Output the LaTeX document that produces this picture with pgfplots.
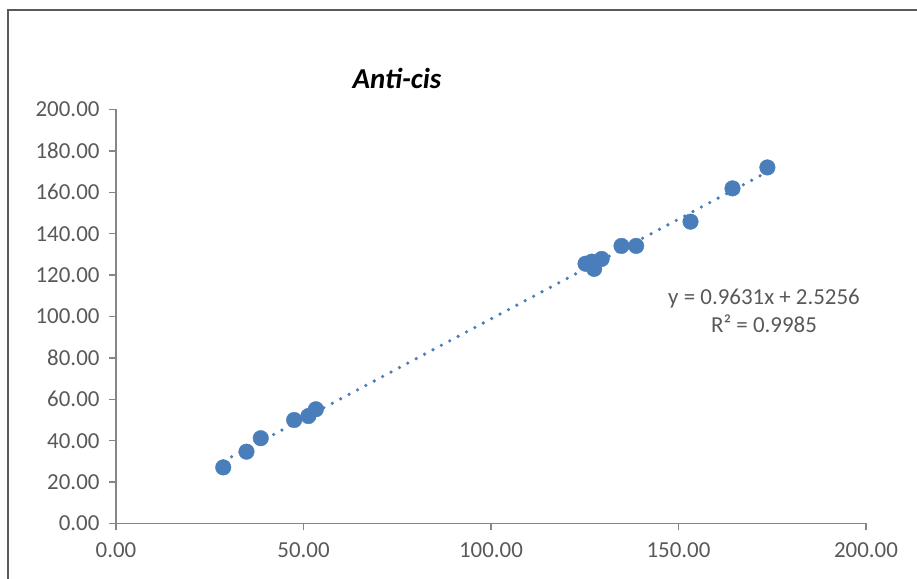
\documentclass[border=0pt]{standalone}
\usepackage{fontspec}
\setmainfont{Carlito}
\usepackage{pgfplots}
\pgfplotsset{compat=1.18}
\definecolor{pt}{HTML}{4A7EBB}
\definecolor{axg}{HTML}{868686}
\definecolor{txg}{HTML}{595959}
\begin{document}
\begin{tikzpicture}[x=1bp,y=1bp]
\path[use as bounding box] (0,0) rectangle (917,579);
\draw[color=black!65, line width=2bp] (8,0) -- (8,569) -- (917,569);
\node[font=\fontsize{29}{34}\selectfont\bfseries\itshape] at (397,501) {Anti-cis};
\begin{axis}[
  at={(116bp,55.5bp)}, anchor=south west,
  width=750bp, height=414bp, scale only axis,
  xmin=0, xmax=200, ymin=0, ymax=200,
  xtick={0,50,...,200}, ytick={0,20,...,200},
  axis x line*=bottom, axis y line*=left,
  axis line style={axg, line width=1.3bp, -},
  tick style={axg, line width=1.3bp},
  tick align=outside, major tick length=7bp,
  ticklabel style={font=\fontsize{23}{28}\selectfont, text=txg},
  xticklabel style={yshift=-9bp},
  yticklabel style={xshift=-6bp},
  /pgf/number format/.cd, fixed, zerofill, precision=2, assume math mode=true,
  /pgfplots/.cd,
  clip=false,
]
\addplot[pt, line width=3.6bp, line cap=round, dash pattern=on 0bp off 9.5bp] coordinates {(28.6,30.07) (173.7,169.82)};
\addplot[only marks, mark=*, mark size=7.8bp, mark options={fill=pt, draw=pt}] coordinates {
(28.6,27.1) (34.8,34.7) (38.6,41.2) (47.5,50.0) (51.3,51.9) (53.3,55.2)
(125.2,125.5) (126.9,126.5) (127.5,123.0) (129.5,127.8) (134.8,134.1)
(138.7,134.1) (153.2,145.8) (164.4,161.9) (173.7,172.0)};
\node[align=center, text=txg, font=\fontsize{23}{28}\selectfont] at (axis cs:172.8,102.7) {y = 0.9631x + 2.5256\\R² = 0.9985};
\end{axis}
\end{tikzpicture}
\end{document}
